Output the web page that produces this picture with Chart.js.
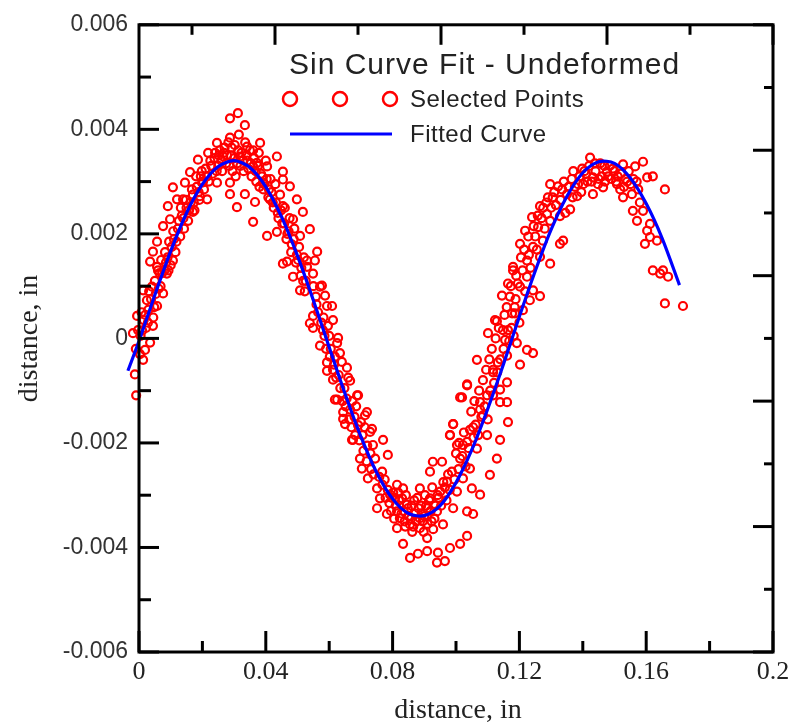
<!DOCTYPE html>
<html>
<head>
<meta charset="utf-8">
<script src="https://cdn.jsdelivr.net/npm/chart.js@4/dist/chart.umd.min.js"></script>
<style>
  html, body { margin: 0; padding: 0; background: #fff; }
  #wrap { width: 796px; height: 728px; }
</style>
</head>
<body>
<div id="wrap"><canvas id="chart" width="796" height="728"></canvas></div>
<script>
// all values in 0.001 in, [x, y]
const startPts = [
    [-3.8,-0.43],[-1.3,-0.69],[-0.9,-1.09],[-2.8,-0.27],[-1.9,0.10],[-0.6,0.43],[1.3,-0.41],[3.5,-0.08],
    [4.4,0.24],[2.5,0.73],[4.1,0.99],[7.6,0.86],[5.7,0.62],[8.8,1.24],[10.7,1.49],[5.7,1.37],[1.3,0.92],
    [-0.3,0.16],[1.9,-0.22],[-2.5,-0.55],[-1.0,-0.2],[0.5,0.05],[1.5,0.35],[2.2,0.2],[3.0,0.55],[0.8,0.5],
    [3.2,0.9],[4.8,0.6],[5.0,1.1],[6.2,0.95],[6.5,1.25],[7.0,1.5],[8.0,1.3],[8.2,1.65],[9.0,1.55],
    [9.5,1.85],[10.0,1.4],[11.0,1.9],[11.5,1.65],[12.3,2.1],[13.0,1.95],[13.5,2.35],[14.2,2.1],[15.0,2.5],
    [15.5,2.25],[16.3,2.6],[17.0,2.75],[17.5,2.45],[18.2,2.9],[19.0,2.65],[19.5,3.1],[20.5,2.85],
    [0.3,-0.3],[1.0,0.15],[2.0,0.45],[2.8,0.3],[3.8,0.75],[4.5,0.4],[5.3,0.85],[6.0,1.3],[6.8,1.0],
    [7.3,1.25],[8.5,1.45],[9.3,1.3],[10.3,1.75],[10.8,2.05],[11.8,1.85],[12.6,2.25],[13.2,2.5],[14.0,2.3],
    [14.8,2.65],[15.8,2.45],[16.7,2.85],[17.3,2.6],[18.0,3.1],[18.8,2.8],[19.8,3.2],[20.2,3.0]
];
const firstPeakPts = [
    [21.0,3.25],[22.0,3.0],[22.5,3.4],[23.2,3.15],[24.0,3.55],[25.0,3.3],[25.5,3.6],[26.2,3.2],[27.0,3.65],
    [27.5,3.35],[28.2,3.75],[29.0,3.5],[29.5,3.2],[30.2,3.7],[31.0,3.35],[31.5,3.9],[32.3,3.55],[33.0,3.2],
    [33.5,3.75],[34.2,3.4],[35.0,3.6],[35.5,3.1],[36.3,3.45],[37.0,3.0],[37.8,3.55],[38.5,3.15],[39.2,2.85],
    [40.0,3.4],[40.8,2.7],[41.5,3.05],[42.2,2.6],[43.0,2.95],[43.8,2.4],[44.5,2.75],[45.2,2.2],[46.0,2.5],
    [46.8,2.0],[47.5,2.3],[48.2,1.8],[49.0,2.1],[49.8,1.6],[50.5,1.75],[51.2,1.35],[52.0,1.55],[52.6,1.1],
    [31.2,4.31],[28.7,4.21],[33.4,4.08],[24.6,3.74],[28.7,3.84],[38.2,3.74],[34.1,3.67],[43.5,3.48],
    [18.6,3.42],[21.8,3.55],[26.5,3.48],[31.9,3.48],[37.2,3.36],[40.4,3.29],[45.4,3.19],[45.4,3.04],
    [47.6,2.91],[49.8,2.66],[51.7,2.42],[53.9,2.09],[56.2,1.66],[55.5,1.49],[46.7,1.47],[40.4,1.96],
    [36.0,2.23],[43.5,2.04],[48.6,2.28],[50.8,1.96],[30.9,2.51],[33.4,2.76],[36.6,2.61],[28.7,2.76],
    [24.6,2.98],[21.5,2.66],[19.9,2.98],[14.5,2.98],[10.7,2.89],[9.1,2.53],[12.0,2.66],[7.6,2.15],
    [9.8,2.28],[5.7,1.85],[3.5,1.47],[4.4,1.66],[17.0,2.42],[19.2,2.72],[13.9,2.66],[16.1,3.18],
    [28.7,2.98],[39.1,2.98],[36.0,3.29],[41.3,2.66],[45.4,2.53],
    [21.5,3.1],[22.8,3.3],[23.8,3.45],[24.5,3.2],[25.2,3.5],[26.0,3.4],[26.8,3.55],[27.8,3.5],[28.5,3.3],
    [29.2,3.65],[30.0,3.45],[30.5,3.1],[31.3,3.6],[32.0,3.3],[32.8,3.4],[33.8,3.5],[34.5,3.25],[35.3,3.35],
    [36.0,3.6],[36.8,3.2],[37.5,3.3],[38.0,2.9],[38.8,3.1],[39.5,2.95],[40.3,3.05],[41.0,2.85],[41.8,2.8],
    [42.5,2.5],[43.2,2.6],[44.0,2.3],[44.8,2.45],[45.8,2.2],[46.5,1.9],[47.2,2.05],[48.0,1.65],[48.8,1.9],
    [49.5,1.45],[50.2,1.5],[51.0,1.2],[51.8,1.1],[52.3,0.9]
];
const fallingPts = [
    [45.4,1.43],[48.6,1.18],[50.8,0.92],[53.0,1.37],[57.1,0.99],[54.9,0.43],[53.9,0.29],[59.3,0.62],
    [57.1,-0.14],[59.3,-0.46],[61.2,-0.6],[62.5,-1.17],[61.2,0.35],[58.0,0.16],[62.5,-0.09],[53.0,1.49],
    [54.9,1.24],[57.7,1.01],[58.7,0.82],[60.9,0.62],[54.9,0.2],[59.6,0.24],[62.8,0.01],[63.4,-0.28],
    [65.6,-0.56],[59.3,-0.62],[61.2,-0.79],[66.6,-0.81],[61.8,-1.17],[69.1,-1.09],[66.6,-1.36],[71.9,-1.41],
    [64.4,-1.54],[69.1,-1.66],[72.9,-1.79],[67.5,-1.94],[77.0,-1.94],[73.8,-2.04],[55.8,0.8],[56.5,0.5],
    [58.2,0.4],[60.0,0.05],[60.5,-0.2],[61.8,-0.35],[63.0,-0.7],[64.0,-0.45],[64.8,-0.95],[65.5,-1.15],
    [66.0,-0.75],[67.3,-1.2],[68.0,-1.5],[68.5,-1.3],[70.0,-1.6],[70.5,-1.85],[71.2,-1.7],[72.0,-2.05],
    [74.5,-2.3],[73.0,-2.2],[64.4,-1.41],[68.8,-1.09],[65.0,-1.64],[71.3,-1.47],[67.2,-1.94],[73.5,-1.73],
    [55.0,1.0],[56.0,0.65],[57.5,0.3],[58.5,0.05],[59.0,-0.2],[60.2,-0.35],[61.5,-0.5],[62.2,-0.75],
    [63.5,-0.95],[64.2,-1.2],[65.2,-1.3],[66.3,-1.55],[67.0,-1.7],[68.2,-1.85],[69.5,-1.95],[70.8,-2.15],
    [71.8,-2.35],[73.2,-2.5],[74.0,-2.6],[75.8,-2.65]
];
const troughPts = [
    [69.7,-2.3],[78.5,-2.23],[70.3,-2.49],[76.7,-2.55],[72.2,-2.68],[75.1,-2.87],[81.4,-2.8],[76.0,-3.06],
    [79.2,-2.99],[83.3,-2.87],[88.6,-2.87],[75.1,-3.25],[78.2,-3.36],[81.4,-3.31],[84.5,-3.18],[82.3,-3.44],
    [81.4,-3.63],[85.5,-3.56],[88.6,-3.44],[90.9,-3.25],[94.0,-3.31],[91.8,-3.06],[95.0,-2.93],[95.9,-3.56],
    [88.6,-3.63],[83.3,-3.93],[90.9,-3.82],[85.5,-4.2],[88.0,-4.12],[90.9,-4.07],[94.0,-4.29],[96.5,-4.26],
    [94.3,-4.1],[98.1,-4.01],[103.5,-3.78],[101.3,-3.93],[105.4,-3.36],[103.5,-3.31],[99.1,-3.25],[97.2,-2.74],
    [100.3,-2.93],[107.6,-2.99],[102.2,-2.68],[105.0,-2.87],[98.7,-2.55],[91.8,-2.55],[92.7,-2.36],[95.6,-2.36],
    [101.3,-2.3],[104.4,-2.49],[110.7,-2.61],[100.3,-2.04],[106.6,-2.11],[98.1,-1.85],[103.5,-1.98],[112.9,-2.3],
    [99.1,-1.64],[104.4,-1.75],[108.5,-1.47],[107.6,-1.22],[111.7,-1.09],[116.1,-1.22],[116.4,-1.6],[101.9,-1.13],
    [103.5,-0.9],[113.9,-0.98],[83.0,-3.06],[77.5,-2.7],[79.0,-3.15],[80.2,-2.95],[80.5,-3.45],[82.0,-3.1],
    [83.5,-3.3],[84.2,-3.0],[85.0,-3.4],[86.0,-3.2],[86.5,-3.6],[87.2,-3.35],[87.8,-3.05],[89.0,-3.2],
    [89.5,-3.5],[90.2,-3.0],[91.0,-3.55],[92.0,-3.3],[92.5,-2.85],[93.2,-3.45],[94.5,-3.05],[96.0,-2.75],
    [97.0,-3.1],[98.0,-2.9],[99.5,-2.7],[100.8,-2.5],[102.0,-2.25],[103.0,-2.45],[104.0,-2.1],[105.5,-1.9],
    [78.5,-2.9],[79.8,-3.05],[81.0,-3.2],[81.8,-2.95],[82.8,-3.35],[83.8,-3.5],[84.8,-3.25],[85.8,-3.45],
    [86.8,-3.1],[87.5,-3.5],[88.2,-3.25],[89.2,-3.35],[90.0,-3.4],[90.6,-3.2],[91.5,-3.1],[92.3,-3.5],
    [93.5,-3.2],[94.2,-3.0],[95.3,-3.2],[96.5,-2.85],[97.5,-2.6],[76.8,-2.8],[77.8,-3.05],[79.5,-3.3],
    [80.8,-3.05],[84.0,-3.6],[86.2,-3.7],[89.8,-3.7],[92.8,-3.65]
];
const risingPts = [
    [106.2,-1.65],[107.0,-1.85],[108.0,-1.5],[109.0,-1.3],[110.0,-1.55],[110.8,-1.0],[112.0,-0.85],[113.0,-0.65],
    [114.0,-0.4],[115.0,-0.2],[116.8,-0.05],[117.5,0.2],[118.2,0.05],[118.0,1.37],[116.4,1.05],[114.5,0.82],
    [118.6,0.48],[112.9,0.33],[116.4,0.16],[110.1,0.1],[115.5,-0.03],[106.6,-0.41],[113.2,-0.46],[111.7,-0.65],
    [116.1,-0.84],[103.5,-0.88],[101.3,-1.13],[109.8,-1.09],[113.9,-1.22],[107.6,-1.36],[99.1,-1.64],[105.4,-1.7],
    [98.1,-1.85],[113.9,-1.94],[102.2,-2.04],[109.8,-1.85],[119.2,-0.09],[122.4,-0.22],[124.3,-0.28],[111.7,-0.6],
    [120.2,-0.5],[116.1,-0.33],[121.1,0.54],[117.7,0.48],[112.3,0.35],[114.8,0.16],[123.3,0.73],[120.2,0.99],
    [124.3,0.92],[126.5,0.81],[122.4,1.18],[118.0,1.3],[122.4,1.49],[126.5,1.56],[129.7,1.43],[120.2,1.81],
    [124.3,1.75],[127.4,1.87],[132.8,1.81],[133.8,1.87],[121.8,2.06],[125.9,2.13],[129.7,2.25],[124.0,2.32],
    [128.0,2.1],[127.0,2.3],[125.0,1.95],[123.0,1.6],[121.0,1.3],[119.5,1.05],[118.8,0.75],[120.0,0.3],
    [121.8,0.9],[123.5,1.35],[125.5,1.7],[118.5,0.6],[117.0,0.8],
    [100.0,-2.2],[101.0,-2.0],[102.5,-1.8],[104.8,-1.4],[105.8,-1.2],[107.3,-1.0],[108.5,-0.8],[109.5,-0.6],
    [110.5,-0.4],[111.3,-0.2],[112.5,0.0],[113.5,0.2],[115.3,0.45],[116.0,0.6],[117.3,1.0],[119.0,1.2],
    [120.5,1.55],[121.5,1.7],[122.8,1.95],[124.5,2.15],[125.8,2.35],[127.5,2.5],[129.0,2.7],[130.0,2.5]
];
const secondPeakPts = [
    [142.3,3.46],[147.6,3.19],[159.0,3.38],[156.5,3.29],[162.1,3.1],[160.3,3.08],[165.9,2.85],[152.7,3.33],
    [129.7,2.95],[132.2,2.91],[135.0,2.76],[140.1,2.95],[143.2,3.08],[146.4,2.89],[150.8,2.95],[152.7,2.7],
    [155.5,2.76],[143.2,2.76],[138.2,2.72],[126.5,2.53],[128.7,2.38],[132.8,2.34],[136.0,2.47],[128.5,2.6],
    [134.0,3.0],[136.5,3.05],[137.5,2.9],[139.0,3.1],[140.5,3.2],[141.5,3.0],[142.0,3.3],[144.0,3.2],
    [144.8,2.95],[145.5,3.35],[146.0,3.1],[147.0,3.0],[148.5,3.3],[149.0,3.05],[150.0,3.2],[151.0,3.1],
    [151.8,2.85],[153.5,3.05],[154.5,3.2],[155.0,2.95],[156.0,3.05],[157.5,2.85],[158.0,2.6],[130.5,2.7],
    [131.5,2.55],[133.0,2.65],[134.5,2.4],[162.1,1.3],[165.3,1.3],[164.4,1.24],[166.9,1.18],[165.9,0.67],
    [171.6,0.62],[161.2,1.94],[163.4,1.87],[160.3,2.06],[157.1,2.25],[159.0,2.44],[155.8,2.44],[161.2,2.19],
    [159.6,1.81],
    [135.5,2.9],[137.0,3.2],[138.5,2.95],[139.8,3.25],[141.0,3.15],[142.8,3.0],[143.8,3.35],[145.0,3.05],
    [146.8,3.3],[148.0,3.1],[149.5,3.25],[150.5,3.0],[152.0,3.15],[153.0,2.9],[154.0,3.0],[157.0,3.0],
    [131.0,2.8],[133.5,2.85],[136.8,2.7],[139.5,2.8]
];

// fitted curve, 0.001 in
const curveX = [-3.5, 0, 5, 10, 15, 20, 25, 30, 35, 40, 45, 50, 55, 60, 65, 70, 75, 80, 85, 90,
    95, 100, 105, 110, 115, 120, 125, 130, 135, 140, 145, 150, 155, 160, 165, 170.5];
const curveY = [-0.62, -0.05, 0.83, 1.67, 2.40, 2.95, 3.29, 3.40, 3.27, 2.90, 2.32, 1.58, 0.73, -0.17,
    -1.06, -1.88, -2.57, -3.07, -3.35, -3.39, -3.20, -2.76, -2.13, -1.35, -0.49, 0.42, 1.29, 2.08,
    2.72, 3.17, 3.38, 3.35, 3.07, 2.58, 1.92, 1.02];

const xTicks = [0, 0.04, 0.08, 0.12, 0.16, 0.2];
const yTicks = [-0.006, -0.004, -0.002, 0, 0.002, 0.004, 0.006];

const chartTitle = 'Sin Curve Fit - Undeformed';
const pointsLabel = 'Selected Points';
const curveLabel = 'Fitted Curve';
const axisTitle = 'distance, in';

const toIn = p => ({ x: p[0] / 1000, y: p[1] / 1000 });
const selected = [...startPts, ...firstPeakPts, ...fallingPts, ...troughPts, ...risingPts, ...secondPeakPts].map(toIn);
const curve = curveX.map((x, i) => ({ x: x / 1000, y: curveY[i] / 1000 }));

Chart.defaults.font.family = '"Liberation Sans", Arial, sans-serif';

const frame = {
    id: 'frame',
    afterDraw(chart) {
        const { ctx, chartArea: a, scales } = chart;
        const xs = scales.x, ys = scales.y;
        ctx.save();
        ctx.strokeStyle = '#000';
        ctx.lineWidth = 3;
        ctx.lineCap = 'butt';
        ctx.strokeRect(a.left, a.top, a.right - a.left, a.bottom - a.top);

        const line = (x1, y1, x2, y2) => {
            ctx.beginPath(); ctx.moveTo(x1, y1); ctx.lineTo(x2, y2); ctx.stroke();
        };
        // left ticks
        for (let k = -6; k <= 6; k++) {
            const y = ys.getPixelForValue(k / 1000);
            line(a.left, y, a.left + (k % 2 === 0 ? 20 : 12), y);
        }
        // bottom ticks
        for (let k = 0; k <= 10; k++) {
            const x = xs.getPixelForValue(k * 0.02);
            line(x, a.bottom, x, a.bottom - (k % 2 === 0 ? 21 : 11));
        }
        // right ticks
        const h = a.bottom - a.top;
        for (let k = 0; k <= 10; k++) {
            const y = a.top + k * h / 10;
            line(a.right, y, a.right - (k % 2 === 0 ? 20 : 9), y);
        }
        // top ticks
        const w = a.right - a.left;
        for (let k = 0; k <= 7; k++) {
            const x = a.right - k * w * 83 / 634;
            if (x <= a.left + 2) continue;
            line(x, a.top, x, a.top + (k % 2 === 0 ? 20 : 10));
        }

        // legend
        ctx.fillStyle = '#222';
        ctx.textBaseline = 'middle';
        ctx.textAlign = 'left';
        ctx.font = '30px "Liberation Sans"';
        ctx.letterSpacing = '1px';
        ctx.fillText(chartTitle, 289, 66);
        ctx.font = '24px "Liberation Sans"';
        ctx.letterSpacing = '0.5px';
        ctx.fillText(pointsLabel, 410, 100);
        ctx.fillText(curveLabel, 410, 135);
        ctx.letterSpacing = '0px';

        ctx.strokeStyle = '#ff0000';
        ctx.lineWidth = 2.5;
        [290, 340, 390].forEach(cx => {
            ctx.beginPath(); ctx.arc(cx, 99, 7, 0, Math.PI * 2); ctx.stroke();
        });
        ctx.strokeStyle = '#0000ff';
        ctx.lineWidth = 3;
        line(290, 134, 392, 134);

        // axis titles
        ctx.fillStyle = '#222';
        ctx.font = '28px "Liberation Serif"';
        ctx.textAlign = 'center';
        ctx.fillText(axisTitle, (a.left + a.right) / 2 + 2, 711);
        ctx.translate(30, (a.top + a.bottom) / 2);
        ctx.rotate(-Math.PI / 2);
        ctx.fillText(axisTitle, 0, 0);
        ctx.restore();
    }
};

new Chart(document.getElementById('chart'), {
    type: 'scatter',
    data: {
        datasets: [
            {
                label: curveLabel,
                data: curve,
                showLine: true,
                borderColor: '#0000ff',
                borderWidth: 3.2,
                pointRadius: 0,
                tension: 0.3,
                clip: false,
                order: 0
            },
            {
                label: pointsLabel,
                data: selected,
                borderColor: '#ff0000',
                backgroundColor: 'rgba(0,0,0,0)',
                borderWidth: 2.2,
                pointRadius: 4,
                pointStyle: 'circle',
                clip: false,
                order: 1
            }
        ]
    },
    plugins: [frame],
    options: {
        responsive: false,
        animation: false,
        devicePixelRatio: 1,
        layout: { padding: { top: 19, right: 23, left: 0, bottom: 0 } },
        plugins: {
            legend: { display: false },
            tooltip: { enabled: false }
        },
        scales: {
            x: {
                type: 'linear',
                min: 0,
                max: 0.2,
                afterFit(scale) { scale.height = 76; },
                afterBuildTicks(scale) { scale.ticks = xTicks.map(v => ({ value: v })); },
                grid: { display: false, drawTicks: false },
                border: { display: false },
                ticks: {
                    padding: 5,
                    autoSkip: false,
                    maxRotation: 0,
                    color: '#222',
                    font: { family: '"Liberation Serif", serif', size: 26 },
                    callback: v => String(+v.toFixed(2))
                }
            },
            y: {
                type: 'linear',
                min: -0.006,
                max: 0.006,
                afterFit(scale) { scale.width = 139; },
                afterBuildTicks(scale) { scale.ticks = yTicks.map(v => ({ value: v })); },
                grid: { display: false, drawTicks: false },
                border: { display: false },
                ticks: {
                    padding: 11,
                    color: '#333',
                    font: { family: '"Liberation Sans", Arial, sans-serif', size: 23 },
                    callback: v => String(+v.toFixed(3))
                }
            }
        }
    }
});
</script>
</body>
</html>
